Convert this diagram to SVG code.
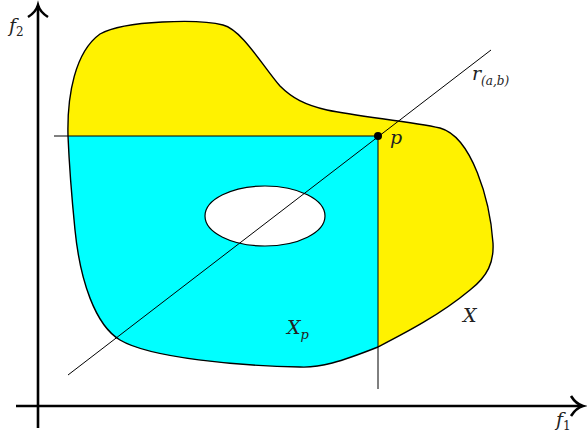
<svg xmlns="http://www.w3.org/2000/svg" width="587" height="439" viewBox="0 0 587 439">
<style>
.ln{stroke:#000;fill:none}
.ax{stroke:#000;stroke-width:2.6;fill:none}
.lbl{font-family:'DejaVu Serif',serif;font-style:italic;font-size:19px;fill:#222}
.sub{font-family:'DejaVu Serif',serif;font-size:12px;fill:#222}
</style>
<defs>
<path id="blob" d="M 68,136 C 67,95 75,52 100,34 C 125,20 200,19 223,25 C 242,30 262,65 280,86 C 292,98 305,105 327,110 C 360,117 410,121 440,128 C 472,137 490,200 493,243 C 494,262 488,276 470,290 C 440,315 405,333 378,347 C 340,362 320,368 300,367 C 240,366 150,358 120,340 C 95,325 80,280 75,230 C 72,200 69,160 68,136 Z"/>
<clipPath id="cp"><rect x="0" y="136" width="378" height="303"/></clipPath>
</defs>
<g id="X">
<use href="#blob" fill="#fff200"/>
<use href="#blob" fill="#00ffff" clip-path="url(#cp)"/>
<use href="#blob" class="ln" stroke-width="1.4"/>
<ellipse cx="265" cy="216" rx="60" ry="30" fill="#fff" stroke="#000" stroke-width="1.2"/>
</g>
<g id="connectors">
<line class="ln" x1="54" y1="136" x2="378" y2="136" stroke-width="1"/>
<line class="ln" x1="378" y1="136" x2="378" y2="389" stroke-width="1"/>
<line class="ln" x1="68" y1="375" x2="491" y2="50" stroke-width="1"/>
</g>
<g id="axes">
<line class="ax" x1="38" y1="428" x2="38" y2="6"/>
<path class="ax" d="M 28,17 Q 36,12 38,5 Q 40,12 48,17"/>
<line class="ax" x1="16" y1="406" x2="581" y2="406"/>
<path class="ax" d="M 571,396 Q 576,404 583,406 Q 576,408 571,416"/>
</g>
<g id="p">
<circle cx="378" cy="136" r="4" fill="#000"/>
<text class="lbl" x="390" y="144" font-size="17">p</text>
</g>
<text class="lbl" x="9" y="32">f<tspan class="sub" font-style="normal" dy="4">2</tspan></text>
<text class="lbl" x="556" y="426">f<tspan class="sub" font-style="normal" dy="4">1</tspan></text>
<text class="lbl" x="472" y="80" font-size="17">r<tspan class="sub" dy="5">(<tspan font-style="italic">a</tspan>,<tspan font-style="italic">b</tspan>)</tspan></text>
<text class="lbl" x="287" y="334">X<tspan font-size="13" dy="5">p</tspan></text>
<text class="lbl" x="463" y="322">X</text>
</svg>
